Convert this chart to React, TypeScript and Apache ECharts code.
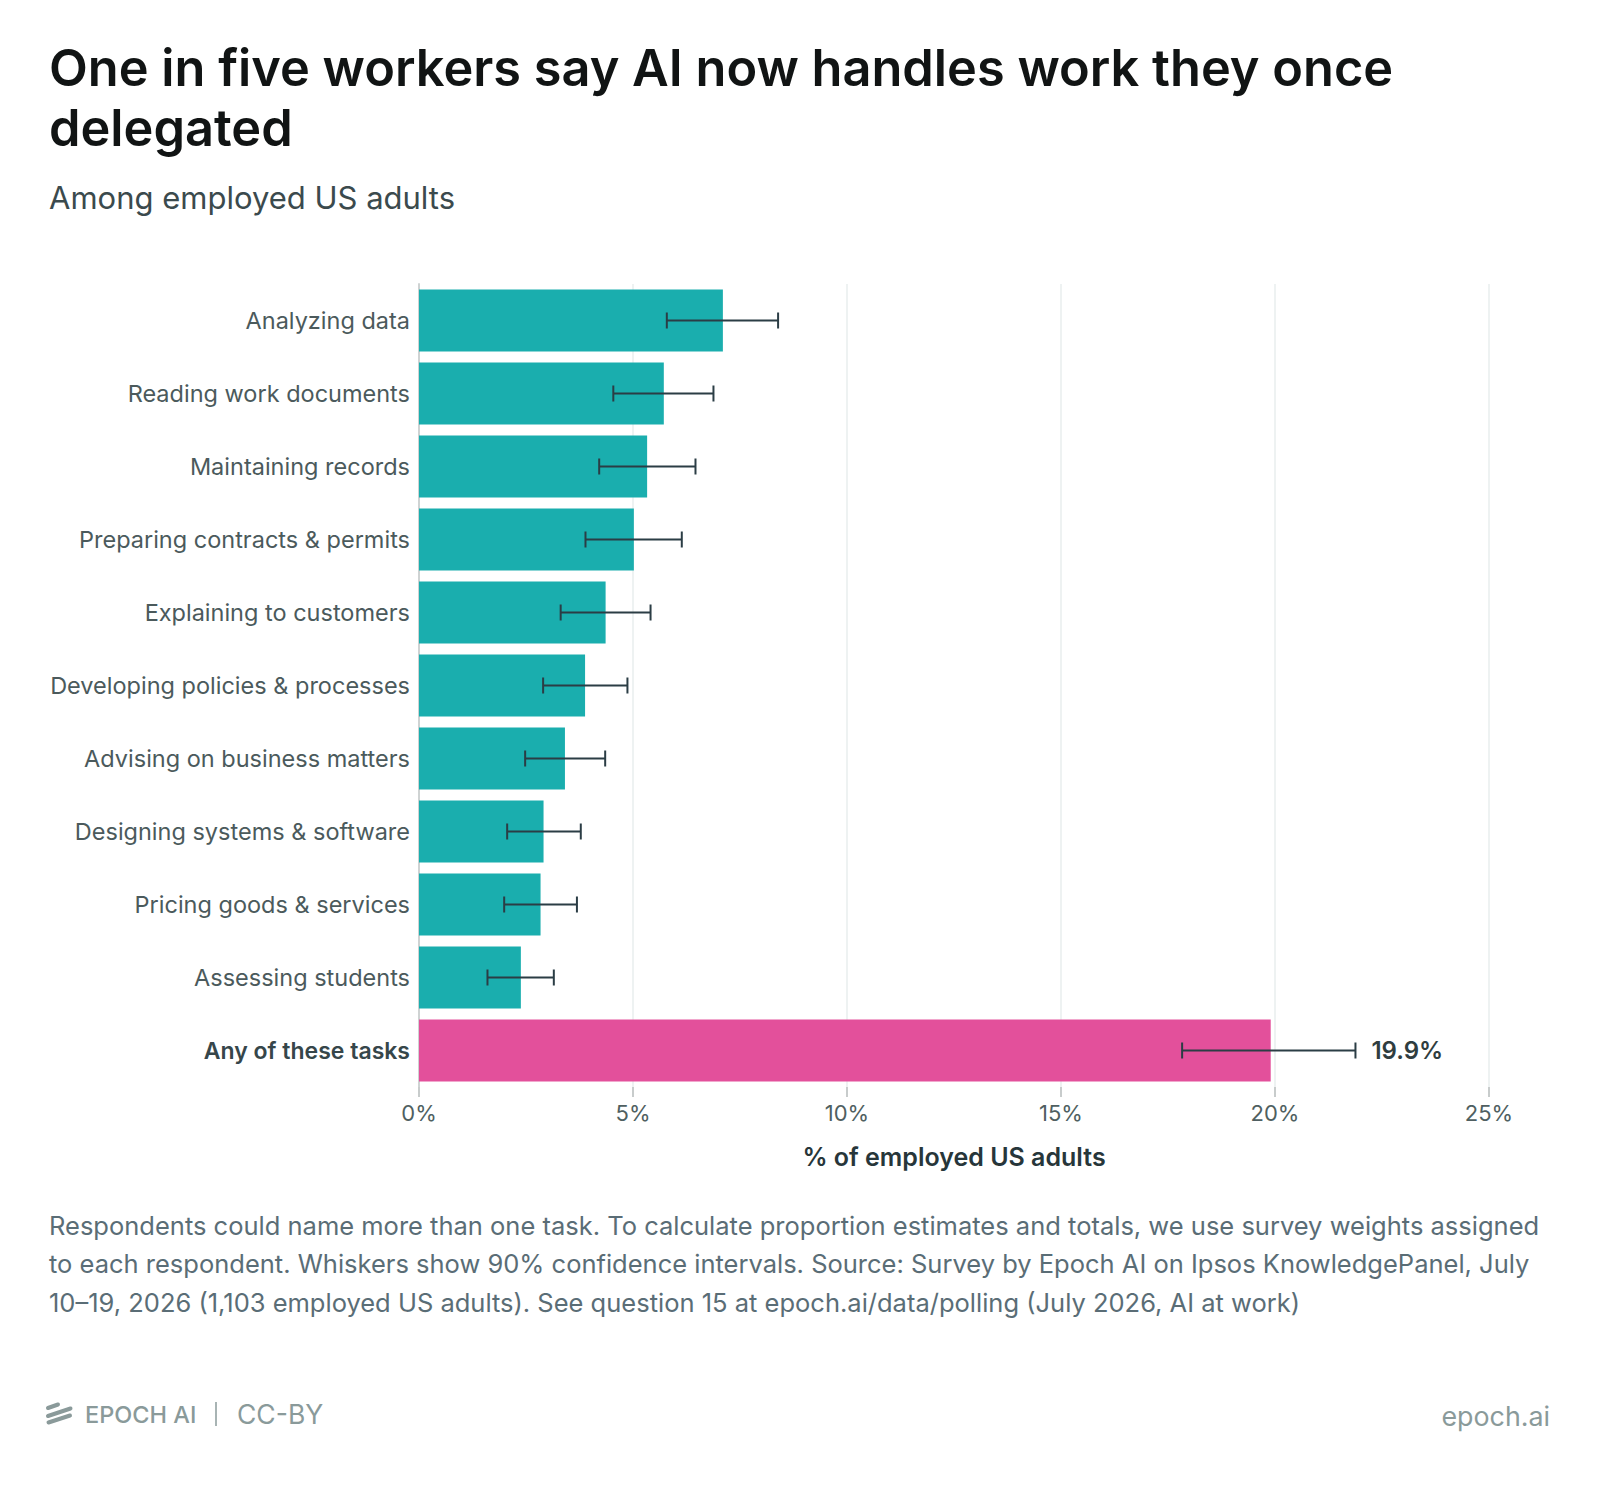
import React, { useEffect, useRef } from "react";
import * as echarts from "echarts";

const categories = [
  "Analyzing data",
  "Reading work documents",
  "Maintaining records",
  "Preparing contracts & permits",
  "Explaining to customers",
  "Developing policies & processes",
  "Advising on business matters",
  "Designing systems & software",
  "Pricing goods & services",
  "Assessing students",
  "Any of these tasks",
];
const values = [7.1, 5.72, 5.33, 5.02, 4.36, 3.88, 3.41, 2.91, 2.84, 2.38, 19.9];
const lower = [5.79, 4.54, 4.21, 3.89, 3.31, 2.9, 2.48, 2.06, 1.99, 1.6, 17.83];
const upper = [8.39, 6.88, 6.46, 6.14, 5.41, 4.87, 4.35, 3.78, 3.69, 3.15, 21.88];
const xTicks = [0, 5, 10, 15, 20, 25];

const titleLines = ["One in five workers say AI now handles work they once", "delegated"];
const subtitle = "Among employed US adults";
const noteLines = [
  "Respondents could name more than one task. To calculate proportion estimates and totals, we use survey weights assigned",
  "to each respondent. Whiskers show 90% confidence intervals. Source: Survey by Epoch AI on Ipsos KnowledgePanel, July",
  "10–19, 2026 (1,103 employed US adults). See question 15 at epoch.ai/data/polling (July 2026, AI at work)",
];

const FONT = "Inter, 'Noto Sans', sans-serif";
const TEAL = "#1aaeae";
const PINK = "#e3509b";
const TOTAL = "Any of these tasks";
const FOOT = "#8a9a9a";

export default function App() {
  const ref = useRef<HTMLDivElement>(null);
  useEffect(() => {
    document.body.style.margin = "0";
    const chart = echarts.init(ref.current!, null, { renderer: "svg" });
    const errData = categories.map((_, i) => [lower[i], upper[i], i]);
    const logoStroke = { stroke: FOOT, lineWidth: 4, lineCap: "round" };
    const option: any = {
      animation: false,
      backgroundColor: "#ffffff",
      grid: { left: 419, right: 111, top: 284, bottom: 401, containLabel: false },
      xAxis: {
        type: "value",
        min: xTicks[0],
        max: xTicks[xTicks.length - 1],
        interval: 5,
        name: "% of employed US adults",
        nameLocation: "middle",
        nameGap: 57,
        nameTextStyle: { fontFamily: FONT, fontSize: 25, fontWeight: 600, color: "#27363a" },
        axisLine: { show: false },
        axisTick: { show: true, length: 10, lineStyle: { color: "#c8cccc", width: 2 } },
        axisLabel: {
          fontFamily: FONT,
          fontSize: 22,
          color: "#4f5f61",
          margin: 15,
          formatter: (v: number) => v + "%",
        },
        splitLine: { show: true, lineStyle: { color: "#eef2f2", width: 2 } },
      },
      yAxis: {
        type: "category",
        data: categories,
        inverse: true,
        axisLine: { show: true, lineStyle: { color: "#cfd3d3", width: 2 } },
        axisTick: { show: false },
        axisLabel: {
          fontFamily: FONT,
          fontSize: 23.5,
          color: "#4b5a5c",
          margin: 9,
          formatter: (v: string) => (v === TOTAL ? "{b|" + v + "}" : v),
          rich: {
            b: { fontFamily: FONT, fontSize: 23, fontWeight: 600, color: "#36464a" },
          },
        },
      },
      series: [
        {
          type: "bar",
          barCategoryGap: "15%",
          data: values.map((v, i) => ({
            value: v,
            itemStyle: { color: categories[i] === TOTAL ? PINK : TEAL },
          })),
          z: 2,
        },
        {
          type: "custom",
          encode: { x: [0, 1], y: 2 },
          data: errData,
          z: 5,
          renderItem: (params: any, api: any) => {
            const lo = api.value(0);
            const hi = api.value(1);
            const idx = api.value(2);
            const p1 = api.coord([lo, idx]);
            const p2 = api.coord([hi, idx]);
            const y = p1[1];
            const h = 8;
            const style = { stroke: "#2b3d45", lineWidth: 2 };
            const children: any[] = [
              { type: "line", shape: { x1: p1[0], y1: y, x2: p2[0], y2: y }, style },
              { type: "line", shape: { x1: p1[0], y1: y - h, x2: p1[0], y2: y + h }, style },
              { type: "line", shape: { x1: p2[0], y1: y - h, x2: p2[0], y2: y + h }, style },
            ];
            if (categories[idx] === TOTAL) {
              children.push({
                type: "text",
                x: p2[0] + 16,
                y: y,
                style: {
                  text: values[idx].toFixed(1) + "%",
                  fontFamily: FONT,
                  fontSize: 24,
                  fontWeight: 600,
                  fill: "#2f3d40",
                  verticalAlign: "middle",
                  align: "left",
                },
              });
            }
            return { type: "group", children };
          },
        },
      ],
      graphic: [
        ...titleLines.map((t, i) => ({
          type: "text",
          left: 49,
          top: 42 + i * 60,
          style: { text: t, fontFamily: FONT, fontSize: 50.5, fontWeight: 600, fill: "#111414" },
        })),
        {
          type: "text",
          left: 49,
          top: 182,
          style: { text: subtitle, fontFamily: FONT, fontSize: 31, fill: "#3b4a4d" },
        },
        ...noteLines.map((t, i) => ({
          type: "text",
          left: 49,
          top: 1212 + i * 38.5,
          style: { text: t, fontFamily: FONT, fontSize: 25.5, fill: "#5a6d76" },
        })),
        {
          type: "group",
          children: [
            { type: "line", shape: { x1: 48, y1: 1408, x2: 58, y2: 1404.5 }, style: logoStroke },
            { type: "line", shape: { x1: 48, y1: 1416, x2: 70.5, y2: 1408.5 }, style: logoStroke },
            { type: "line", shape: { x1: 48.5, y1: 1422.5, x2: 70, y2: 1415.5 }, style: logoStroke },
          ],
        },
        {
          type: "text",
          x: 85,
          y: 1414,
          style: { text: "EPOCH AI", fontFamily: FONT, fontSize: 23.5, fontWeight: 500, fill: FOOT, verticalAlign: "middle" },
        },
        {
          type: "rect",
          shape: { x: 215, y: 1402, width: 2, height: 24 },
          style: { fill: "#a8b4b4" },
        },
        {
          type: "text",
          x: 237,
          y: 1414,
          style: { text: "CC-BY", fontFamily: FONT, fontSize: 26.5, fill: FOOT, verticalAlign: "middle" },
        },
        {
          type: "text",
          x: 1550,
          y: 1416,
          style: { text: "epoch.ai", fontFamily: FONT, fontSize: 26.8, fill: FOOT, verticalAlign: "middle", align: "right" },
        },
      ],
    };
    chart.setOption(option);
    return () => chart.dispose();
  }, []);
  return <div ref={ref} style={{ width: 1600, height: 1488 }} />;
}
